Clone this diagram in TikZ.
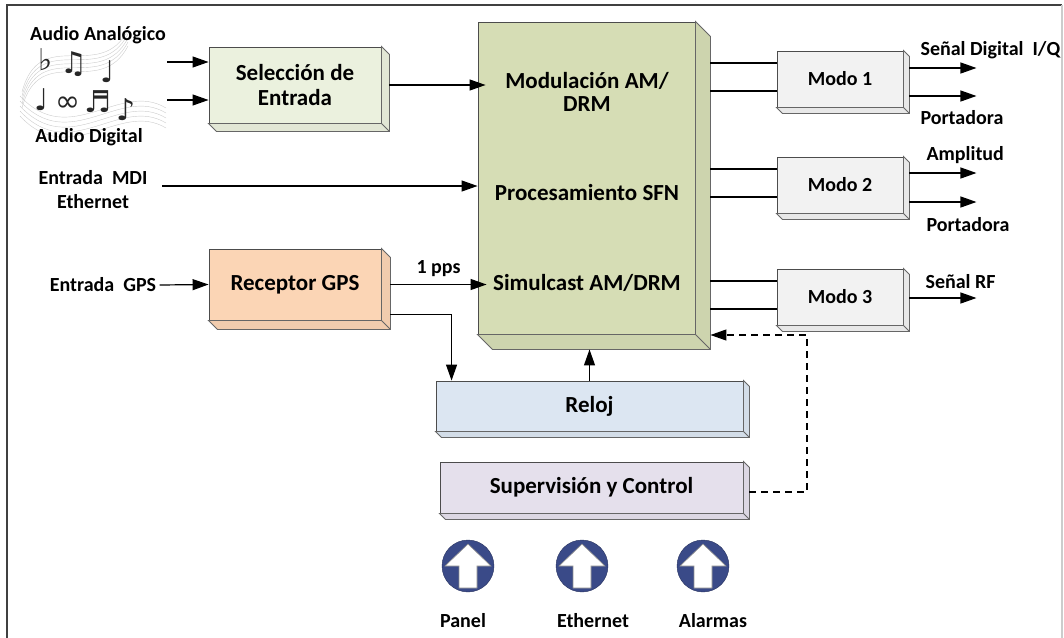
\documentclass[tikz,border=0pt]{standalone}
\usepackage{fontspec}
\setmainfont{Carlito}
\newfontfamily\simbolos{DejaVu Sans}
\usetikzlibrary{arrows.meta,calc}

\definecolor{oliva}{HTML}{D6DDB5}
\definecolor{selec}{HTML}{EBF1DE}
\definecolor{naranja}{HTML}{FBD5B5}
\definecolor{celeste}{HTML}{DCE6F2}
\definecolor{lila}{HTML}{E5E0EC}
\definecolor{gris}{HTML}{F2F2F2}
\definecolor{azulicono}{HTML}{3A4A88}

\tikzset{
  caja/.style={draw=black!70, fill=#1, line width=0.9pt, align=center,
    font=\fontsize{23}{25}\selectfont\bfseries},
  texto/.style={align=center, font=\fontsize{23}{23}\selectfont\bfseries},
  etiqueta/.style={align=center, font=\fontsize{20}{24}\selectfont\bfseries},
  flecha/.style={line width=1.2pt, -{Triangle[length=16pt,width=11pt]}},
  linea/.style={line width=1.2pt},
  nota/.style={font=\simbolos\fontsize{30}{30}\selectfont, text=black!85}
}

% caras laterales e inferior de una caja con relieve
\newcommand{\relieve}[3]{%
  \draw[black!60, line width=0.9pt, fill=#3!96!black] (#1.north east) -- ++(#2,#2)
    -- ($(#1.south east)+(#2,#2)$) -- ($(#1.south west)+(#2,#2)$)
    -- (#1.south west) -- (#1.south east) -- cycle;
  \draw[black!60, line width=0.9pt] (#1.south east) -- ++(#2,#2);
}

\begin{document}
\begin{tikzpicture}[x=1pt,y=-1pt]
\useasboundingbox (0,0) rectangle (1064,637);
\draw[black!75, line width=1.3pt] (7,645) -- (7,5) -- (1062,5);
\draw[black!20, line width=1.3pt] (1062,5) -- (1062,645);

% pentagrama con notas
\foreach \k in {0,...,4}{
  \draw[black!20] (22,108-4*\k) .. controls (40,40-4*\k) and (100,100-4*\k) .. (128,46-4*\k);
  \draw[black!20] (20,96+5*\k) .. controls (70,150+5*\k) and (120,80+5*\k) .. (166,108+5*\k);
}
\node[nota] (n1) at (46,60) {♭};
\node[nota] (n2) at (74,64) {♫};
\node[nota] (n3) at (108,72) {♩};
\node[nota] (n4) at (42,100) {♩};
\node[nota] (n5) at (68,104) {∞};
\node[nota] (n6) at (98,102) {♬};
\node[nota] (n7) at (126,110) {♪};

% bloques
\node[caja=selec, minimum width=172, minimum height=76] (sel) at (295,85) {Selección de\\Entrada};
\relieve{sel}{8}{selec}
\node[caja=oliva, minimum width=217, minimum height=312] (main) at (586.5,178) {};
\relieve{main}{15}{oliva}
\node[caja=naranja, minimum width=172, minimum height=71] (gps) at (295,284.5) {Receptor GPS};
\relieve{gps}{9}{naranja}
\node[caja=celeste, minimum width=307, minimum height=50] (reloj) at (589.5,406) {Reloj};
\relieve{reloj}{6}{celeste}
\node[caja=lila, minimum width=303, minimum height=51] (sup) at (591.5,487.5) {Supervisión y Control};
\relieve{sup}{6}{lila}
\foreach \m/\y in {1/79,2/185,3/297}{
  \node[caja=gris, minimum width=126, minimum height=56,
        font=\fontsize{20}{22}\selectfont\bfseries] (modo\m) at (840,\y) {Modo \m};
  \relieve{modo\m}{6}{gris}
}

\node[texto] (modul) at (587,91.5) {Modulación AM/\\DRM};
\node[texto] (proc) at (587,193) {Procesamiento SFN};
\node[texto] (simul) at (587,283) {Simulcast AM/DRM};

% entradas
\node[etiqueta] (analog) at (98,35) {Audio Analógico};
\node[etiqueta] (digital) at (89,137) {Audio Digital};
\node[etiqueta] (mdi) at (93,190) {Entrada~ MDI\\Ethernet};
\node[etiqueta] (entgps) at (103,285) {Entrada~ GPS};
\coordinate (inA) at (167,62);
\coordinate (inD) at (167,100);
\coordinate (inM) at (162,186);
\coordinate (lado) at ([xshift=15pt]main.east);
\coordinate (mainbase) at ([yshift=-15pt]main.south);

\draw[flecha] (inA) -- (inA -| sel.west);
\draw[flecha] (inD) -- (inD -| sel.west);
\draw[flecha] (inM) -- (inM -| main.west);
\draw[flecha] (entgps.east) -- (gps.west);
\draw[flecha] ([xshift=8pt]sel.east) -- ([xshift=8pt]sel.east -| main.west);
\draw[flecha] ([xshift=9pt]gps.east) -- ([xshift=9pt]gps.east -| main.west)
  node[etiqueta, midway, above=4pt] (pps) {1 pps};
\draw[flecha] ([shift={(9pt,-30pt)}]gps.east) -| ([xshift=16pt]reloj.north west);
\draw[flecha] (reloj.north) -- (reloj.north |- mainbase);

% salidas hacia los modos
\foreach \m in {1,2,3}{
  \path ($(modo\m.west)+(0,-16)$) coordinate (m\m a)
        ($(modo\m.west)+(0,12)$) coordinate (m\m b);
  \draw[linea] (m\m a) -- (m\m a -| lado) (m\m b) -- (m\m b -| lado);
}
\draw[flecha] ([shift={(6pt,11pt)}]modo1.east) -- ++(67,0);
\draw[flecha] ([shift={(6pt,-17pt)}]modo1.east) -- ++(67,0);
\draw[flecha] ([shift={(6pt,12pt)}]modo2.east) -- ++(67,0);
\draw[flecha] ([shift={(6pt,-17pt)}]modo2.east) -- ++(67,0);
\draw[flecha] ([shift={(6pt,-1pt)}]modo3.east) -- ++(67,0);
\node[etiqueta, anchor=west] (iq) at (917,50) {Señal Digital~ I/Q};
\node[etiqueta, anchor=west] (port1) at (917,118) {Portadora};
\node[etiqueta, anchor=west] (ampl) at (923,155) {Amplitud};
\node[etiqueta, anchor=west] (port2) at (923,225) {Portadora};
\node[etiqueta, anchor=west] (rf) at (922,282) {Señal RF};

% control
\coordinate (retorno) at (807,335);
\draw[flecha, dashed, dash pattern=on 7pt off 5pt] ([shift={(6pt,-4.5pt)}]sup.east) -| (retorno) -- (retorno -| lado);

% iconos de interfaz
\foreach \x/\n/\lx/\lab in {468/panel/463/Panel, 582/eth/593/Ethernet, 703/alarm/713/Alarmas}{
  \node[circle, fill=azulicono, draw=azulicono!70!black, minimum size=52] (\n) at (\x,566) {};
  \draw[fill=white, draw=black!45, line width=0.6pt]
    ($(\n)+(-23,0)$) -- ($(\n)+(0,-22)$) -- ($(\n)+(23,0)$) -- ($(\n)+(9,0)$)
    -- ($(\n)+(9,22)$) -- ($(\n)+(-9,22)$) -- ($(\n)+(-9,0)$) -- cycle;
  \node[etiqueta] (l\n) at (\lx,621) {\lab};
}
\end{tikzpicture}
\end{document}
